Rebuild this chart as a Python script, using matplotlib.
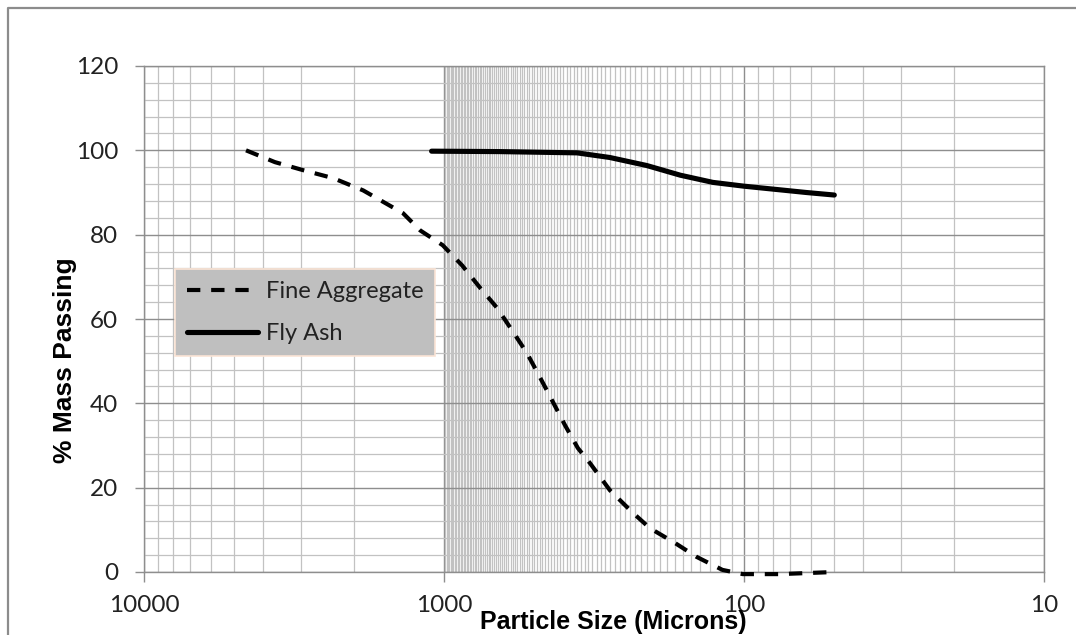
import matplotlib
matplotlib.use('Agg')
import matplotlib.pyplot as plt
from matplotlib.ticker import FixedLocator, FuncFormatter, NullFormatter, MultipleLocator
from matplotlib.lines import Line2D

plt.rcParams['font.family'] = ['Lato', 'DejaVu Sans']

# ---- data (particle size in microns, % passing) ----
fine_size = [4570, 3660, 2950, 2340, 1860, 1370, 1200, 1010, 870, 760, 665, 593,
             529, 479, 437, 395, 358, 326, 280, 236, 206, 170, 144, 118, 101, 76, 50]
fine_pass = [100.0, 97.2, 95.3, 93.4, 90.5, 85.1, 81.0, 77.5, 72.7, 67.5, 62.6, 57.3,
             51.9, 46.2, 40.8, 34.8, 29.4, 25.8, 19.4, 14.2, 10.4, 6.9, 3.6, 0.5, -0.5, -0.5, 0.0]

fly_size = [1100, 650, 360, 280, 211, 163, 127, 100, 80, 62, 50]
fly_pass = [99.8, 99.7, 99.4, 98.3, 96.4, 94.1, 92.4, 91.5, 90.8, 90.0, 89.4]

series_labels = ['Fine Aggregate', 'Fly Ash']
x_major = [10000, 1000, 100, 10]
x_title = 'Particle Size (Microns)'
y_title = '% Mass Passing'

# ---- figure ----
W, H = 1076, 635
fig = plt.figure(figsize=(W / 100, H / 100), dpi=100)
ax = fig.add_axes([144 / W, 1 - 572 / H, 900 / W, 506 / H])

ax.set_xscale('log')
ax.set_xlim(10000, 10)
ax.set_ylim(0, 120)

minor_x = list(range(2000, 10000, 1000)) + list(range(110, 1000, 10)) + list(range(20, 100, 10))
ax.xaxis.set_major_locator(FixedLocator(x_major))
ax.xaxis.set_major_formatter(FuncFormatter(lambda v, p: '%d' % round(v)))
ax.xaxis.set_minor_locator(FixedLocator(minor_x))
ax.xaxis.set_minor_formatter(NullFormatter())
ax.yaxis.set_major_locator(MultipleLocator(20))
ax.yaxis.set_minor_locator(MultipleLocator(4))

grid_major = '#8e8e8e'
grid_minor = '#c2c2c2'
ax.grid(which='major', color=grid_major, lw=1.0)
ax.grid(which='minor', color=grid_minor, lw=0.9)
ax.set_axisbelow(True)
for s in ax.spines.values():
    s.set_color(grid_major)
    s.set_linewidth(1.0)

ax.tick_params(which='minor', length=0)
ax.tick_params(axis='x', which='major', length=7.5, width=1, color=grid_major,
               pad=9, labelsize=17.5, labelcolor='#222222')
ax.tick_params(axis='y', which='major', length=6.5, width=1, color=grid_major,
               pad=12, labelsize=17.5, labelcolor='#222222')

ax.plot(fine_size, fine_pass, color='black', lw=3.0, dashes=(3.2, 2.6),
        dash_capstyle='butt', label=series_labels[0], clip_on=False, zorder=3)
ax.plot(fly_size, fly_pass, color='black', lw=3.7, solid_capstyle='round',
        label=series_labels[1], clip_on=False, zorder=3)

leg = ax.legend(loc='upper left', bbox_to_anchor=((175 - 144) / 900, (572 - 269) / 506),
                borderaxespad=0, frameon=True, fancybox=False, facecolor='#bfbfbf',
                edgecolor='#fbe4d5', framealpha=1, prop={'family': 'Lato', 'size': 17},
                handlelength=3.0, handletextpad=0.35, labelspacing=0.9, borderpad=0.5)
leg.get_frame().set_linewidth(1.2)
for t in leg.get_texts():
    t.set_color('#222222')

ax.set_xlabel(x_title, fontsize=18, fontweight='bold', family='Liberation Sans', va='center')
ax.xaxis.set_label_coords((613.5 - 144) / 900, (572 - 622) / 506)
ax.set_ylabel(y_title, fontsize=19, fontweight='bold', family='Liberation Sans', va='center')
ax.yaxis.set_label_coords((65 - 144) / 900, (572 - 360) / 506)

# outer chart frame (left and top edges visible)
fig.add_artist(Line2D([8 / W, 8 / W, 1.0], [0, 1 - 8 / H, 1 - 8 / H],
                      color='#8c8c8c', lw=1.6, transform=fig.transFigure))

fig.savefig('out.png', dpi=100)
